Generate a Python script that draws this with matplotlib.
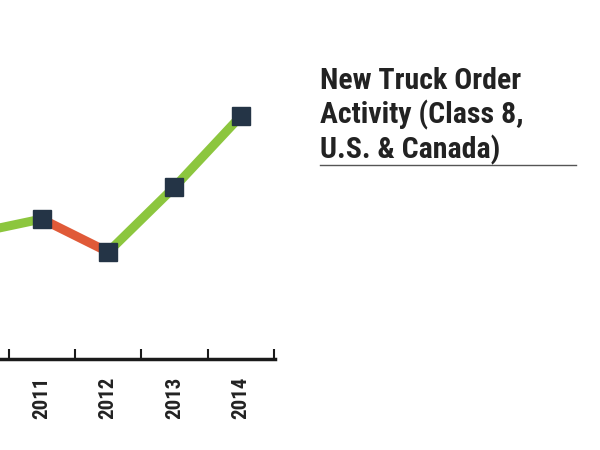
import matplotlib.pyplot as plt
from matplotlib import font_manager

# Dados (pedidos, milhares de unidades - estimado)
anos = [2010, 2011, 2012, 2013, 2014]
pedidos = [259, 273, 240, 305, 376]
anos_rotulo = [2011, 2012, 2013, 2014]
rotulos = ["2011", "2012", "2013", "2014"]

verde = "#8cc63e"
vermelho = "#e05a38"
marcador = "#243446"
texto = "#222222"

# tenta fonte condensada
nomes = {f.name for f in font_manager.fontManager.ttflist}
fonte = "DejaVu Sans"
for cand in ["Roboto Condensed", "DejaVu Sans Condensed", "Liberation Sans Narrow"]:
    if cand in nomes:
        fonte = cand
        break
plt.rcParams["font.family"] = [fonte, "DejaVu Sans"]

fig = plt.figure(figsize=(6, 4.5), dpi=100)
ax = fig.add_axes([0, 91 / 450, 275 / 600, 359 / 450])

# segmentos: verde quando sobe, vermelho quando desce
for i in range(len(anos) - 1):
    cor = verde if pedidos[i + 1] >= pedidos[i] else vermelho
    ax.plot(anos[i:i + 2], pedidos[i:i + 2], color=cor, lw=6.5,
            solid_capstyle="butt", zorder=2)
ax.plot(anos, pedidos, ls="none", marker="s", ms=12.5, color=marcador, zorder=3)

ax.set_yticks([])
ax.set_xticks([a - 0.5 for a in anos_rotulo] + [2014.5])
ax.set_xticklabels([])
ax.set_xticks(anos_rotulo, minor=True)
ax.set_xticklabels(rotulos, minor=True, rotation=90, fontsize=15,
                   fontweight="bold", color=texto)
ax.set_xlim(2010.37, 2014.515)
ax.set_ylim(133, 492)
ax.tick_params(axis="x", which="major", direction="in", length=7, width=1.5,
               color="#1a1a1a")
ax.tick_params(axis="x", which="minor", length=0, pad=13)
for lado in ["top", "left", "right"]:
    ax.spines[lado].set_visible(False)
ax.spines["bottom"].set_linewidth(2.5)
ax.spines["bottom"].set_color("#1a1a1a")

fig.text(320 / 600, 1 - 67 / 450, "New Truck Order\nActivity (Class 8,\nU.S. & Canada)",
         ha="left", va="top", fontsize=21.5, fontweight="bold", color=texto,
         linespacing=1.2)
fig.add_artist(plt.Line2D([320 / 600, 576 / 600], [1 - 165 / 450] * 2,
                          color="#555555", lw=1))

fig.savefig("out.png", dpi=100)
